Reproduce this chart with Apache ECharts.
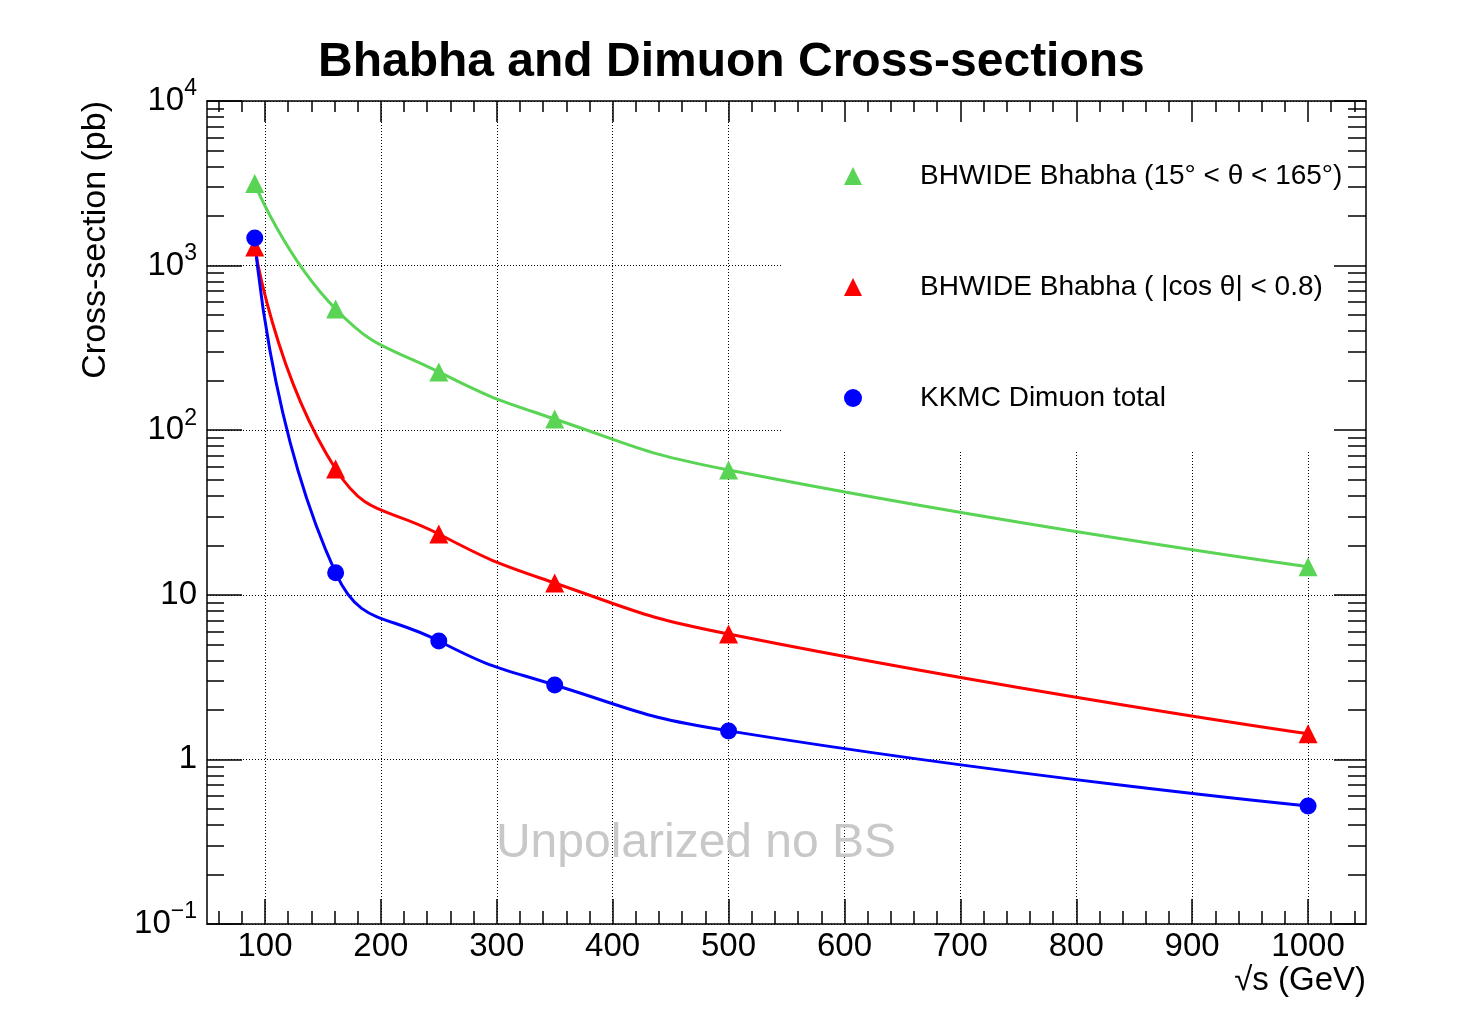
<!DOCTYPE html>
<html>
<head>
<meta charset="utf-8">
<script src="https://cdn.jsdelivr.net/npm/echarts@6/dist/echarts.min.js"></script>
<style>
html, body { margin: 0; padding: 0; background: #fff; }
#main { width: 1484px; height: 1028px; }
</style>
</head>
<body>
<div id="main"></div>
<script>
// centre-of-mass energies (GeV)
var energies = [91.2, 161, 250, 350, 500, 1000];
// cross-sections (pb)
var bhwideWide = [3150, 545, 226, 117, 57.3, 14.8];
var bhwideCos = [1297, 58.1, 23.4, 11.8, 5.78, 1.43];
var kkmcDimuon = [1472, 13.6, 5.24, 2.83, 1.49, 0.521];

var seriesNames = ['BHWIDE Bhabha (15\u00b0 < \u03b8 < 165\u00b0)', 'BHWIDE Bhabha ( |cos \u03b8| < 0.8)', 'KKMC Dimuon total'];

var xMajor = [100, 200, 300, 400, 500, 600, 700, 800, 900, 1000];
var xMinor = [60, 80, 120, 140, 160, 180, 220, 240, 260, 280, 320, 340, 360, 380, 420, 440, 460, 480,
	520, 540, 560, 580, 620, 640, 660, 680, 720, 740, 760, 780, 820, 840, 860, 880, 920, 940, 960, 980, 1020, 1040];
var yMajor = [0.1, 1, 10, 100, 1000, 10000];
var yMinor = [0.2, 0.3, 0.4, 0.5, 0.6, 0.7, 0.8, 0.9, 2, 3, 4, 5, 6, 7, 8, 9, 20, 30, 40, 50, 60, 70, 80, 90,
	200, 300, 400, 500, 600, 700, 800, 900, 2000, 3000, 4000, 5000, 6000, 7000, 8000, 9000];

var FONT = 'Liberation Sans, Arial, Helvetica, sans-serif';

function pairs(ys) {
	var out = [];
	for (var i = 0; i < energies.length; i++) {
		out.push([energies[i], ys[i]]);
	}
	return out;
}

function logLabel(v) {
	var e = Math.round(Math.log(v) / Math.LN10);
	if (e == 0) return '1';
	if (e == 1) return '10';
	return '10{sup|' + (e < 0 ? '\u2212' + (-e) : e) + '}';
}

var hidden = { show: false };
var blackLine = { show: true, lineStyle: { color: '#000', width: 1.5 } };

// x axes: 0 = grid lines, 1..4 = ticks (bottom/top)
var xBase = { type: 'value', min: 50, max: 1050, gridIndex: 0 };
var xAxes = [
	echarts.util.extend({
		position: 'bottom', z: 0,
		axisLine: hidden, axisLabel: hidden,
		axisTick: { show: false, customValues: xMajor },
		splitLine: { show: true, lineStyle: { color: '#000', width: 1, type: [1, 2] } }
	}, xBase),
	echarts.util.extend({
		position: 'bottom', z: 5,
		axisLine: blackLine,
		axisTick: { show: true, inside: true, length: 25, customValues: xMajor, lineStyle: { color: '#000', width: 1.5 } },
		axisLabel: {
			show: true, customValues: xMajor, fontSize: 33, fontFamily: FONT, color: '#000', margin: 6,
			formatter: function(v) { return String(v); }
		},
		splitLine: hidden,
		name: '\u221as (GeV)', nameLocation: 'end', nameGap: 0,
		nameTextStyle: { fontSize: 33, fontFamily: FONT, color: '#000', align: 'right', verticalAlign: 'top', padding: [40, 0, 0, 0] }
	}, xBase),
	echarts.util.extend({
		position: 'bottom', z: 5,
		axisLine: hidden, axisLabel: hidden, splitLine: hidden,
		axisTick: { show: true, inside: true, length: 13, customValues: xMinor, lineStyle: { color: '#000', width: 1.5 } }
	}, xBase),
	echarts.util.extend({
		position: 'top', z: 5,
		axisLine: blackLine, axisLabel: hidden, splitLine: hidden,
		axisTick: { show: true, inside: true, length: 21, customValues: xMajor, lineStyle: { color: '#000', width: 1.5 } }
	}, xBase),
	echarts.util.extend({
		position: 'top', z: 5,
		axisLine: hidden, axisLabel: hidden, splitLine: hidden,
		axisTick: { show: true, inside: true, length: 11, customValues: xMinor, lineStyle: { color: '#000', width: 1.5 } }
	}, xBase)
];

var yBase = { type: 'log', logBase: 10, min: 0.1, max: 10000, gridIndex: 0 };
var yAxes = [
	echarts.util.extend({
		position: 'left', z: 0,
		axisLine: hidden, axisLabel: hidden,
		axisTick: { show: false, customValues: yMajor },
		splitLine: { show: true, lineStyle: { color: '#000', width: 1, type: [1, 2] } }
	}, yBase),
	echarts.util.extend({
		position: 'left', z: 5,
		axisLine: blackLine,
		axisTick: { show: true, inside: true, length: 35, customValues: yMajor, lineStyle: { color: '#000', width: 1.5 } },
		axisLabel: {
			show: true, customValues: yMajor, fontSize: 33, fontFamily: FONT, color: '#000', margin: 10,
			formatter: logLabel,
			rich: { sup: { fontSize: 23, fontFamily: FONT, color: '#000', padding: [0, 0, 24, 0] } }
		},
		splitLine: hidden,
		name: 'Cross-section (pb)', nameLocation: 'end', nameGap: 0, nameRotate: 90,
		nameTextStyle: { fontSize: 34, fontFamily: FONT, color: '#000', align: 'right', verticalAlign: 'bottom', padding: [0, 0, 94, 0] }
	}, yBase),
	echarts.util.extend({
		position: 'left', z: 5,
		axisLine: hidden, axisLabel: hidden, splitLine: hidden,
		axisTick: { show: true, inside: true, length: 17, customValues: yMinor, lineStyle: { color: '#000', width: 1.5 } }
	}, yBase),
	echarts.util.extend({
		position: 'right', z: 5,
		axisLine: blackLine, axisLabel: hidden, splitLine: hidden,
		axisTick: { show: true, inside: true, length: 32, customValues: yMajor, lineStyle: { color: '#000', width: 1.5 } }
	}, yBase),
	echarts.util.extend({
		position: 'right', z: 5,
		axisLine: hidden, axisLabel: hidden, splitLine: hidden,
		axisTick: { show: true, inside: true, length: 18, customValues: yMinor, lineStyle: { color: '#000', width: 1.5 } }
	}, yBase)
];

function makeSeries(name, ys, color, symbol, size) {
	return {
		name: name,
		type: 'line',
		xAxisIndex: 0,
		yAxisIndex: 0,
		data: pairs(ys),
		smooth: 0.5,
		symbol: symbol,
		symbolSize: size,
		z: 3,
		itemStyle: { color: color },
		lineStyle: { color: color, width: 3 },
		emphasis: { disabled: true },
		animation: false
	};
}

var chart = echarts.init(document.getElementById('main'), null, { renderer: 'canvas' });

var option = {
	backgroundColor: '#fff',
	animation: false,
	title: {
		text: 'Bhabha and Dimuon Cross-sections',
		left: 313,
		top: 34,
		textStyle: { fontSize: 48, fontWeight: 'bold', fontFamily: FONT, color: '#000' }
	},
	grid: { left: 207, top: 101, right: 118, bottom: 104, containLabel: false },
	xAxis: xAxes,
	yAxis: yAxes,
	legend: {
		orient: 'vertical',
		left: 839,
		top: 157,
		itemWidth: 18,
		itemHeight: 18,
		itemGap: 83,
		selectedMode: false,
		textStyle: { fontSize: 28, fontFamily: FONT, color: '#000', padding: [0, 0, 0, 53] },
		data: [
			{ name: seriesNames[0], icon: 'triangle' },
			{ name: seriesNames[1], icon: 'triangle' },
			{ name: seriesNames[2], icon: 'circle' }
		]
	},
	graphic: [
		{
			// legend box hides the grid behind it
			type: 'rect', z: 1, silent: true,
			shape: { x: 781, y: 102, width: 584, height: 348 },
			style: { fill: '#fff' }
		},
		{
			type: 'text', z: 2, silent: true,
			x: 696, y: 844,
			style: {
				text: 'Unpolarized no BS', fontSize: 48, fontFamily: FONT, fill: '#c8c8c8',
				align: 'center', verticalAlign: 'middle'
			}
		}
	],
	series: [
		makeSeries(seriesNames[0], bhwideWide, '#59d454', 'triangle', 19),
		makeSeries(seriesNames[1], bhwideCos, '#ff0000', 'triangle', 19),
		makeSeries(seriesNames[2], kkmcDimuon, '#0000ff', 'circle', 17)
	]
};

chart.setOption(option);
</script>
</body>
</html>
